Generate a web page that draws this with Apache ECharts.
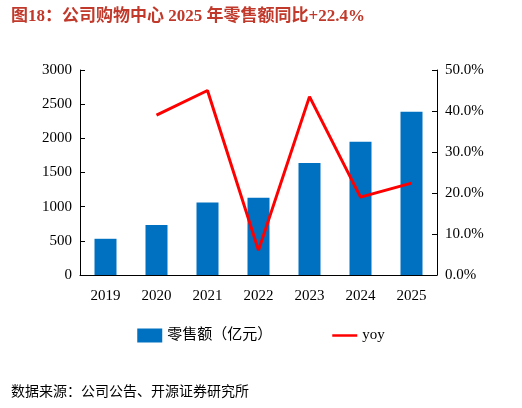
<!DOCTYPE html><html><head><meta charset="utf-8"><script src="https://cdn.jsdelivr.net/npm/echarts@6/dist/echarts.min.js"></script></head><body style="margin:0"><div id="c" style="width:522px;height:408px"></div><script>
const categories=['2019','2020','2021','2022','2023','2024','2025'];
const sales=[530,730,1060,1130,1640,1950,2390];
const yoy=[null,39.0,45.0,6.0,43.5,19.0,22.4];
const c=echarts.init(document.getElementById('c'));
const f='"Liberation Serif","Noto Sans CJK SC",serif';
c.setOption({
title:[{text:'图18：公司购物中心 2025 年零售额同比+22.4%',left:6,top:3,textStyle:{color:'#C0392B',fontSize:17,fontWeight:'bold',fontFamily:f}},
{text:'数据来源：公司公告、开源证券研究所',left:6,top:380,textStyle:{color:'#000',fontSize:14,fontWeight:'normal',fontFamily:f}}],
grid:{left:80,right:85,top:70,bottom:133},
legend:{bottom:60,itemGap:60,textStyle:{fontSize:15,fontFamily:f,color:'#000'},data:[{name:'零售额（亿元）',icon:'rect',itemWidth:44,itemHeight:8},{name:'yoy',icon:'path://M0,0H10V1H0Z',itemWidth:44,itemHeight:3}]},
xAxis:{type:'category',data:categories,axisTick:{show:false},axisLine:{lineStyle:{color:'#000'}},axisLabel:{fontSize:15,color:'#000',fontFamily:f,margin:14}},
yAxis:[{type:'value',min:0,max:3000,interval:500,splitLine:{show:false},axisLine:{show:true,lineStyle:{color:'#000'}},axisTick:{show:true,inside:true},axisLabel:{fontSize:15,color:'#000',fontFamily:f,formatter:v=>String(v)}},
{type:'value',min:0,max:50,interval:10,splitLine:{show:false},axisLine:{show:true,lineStyle:{color:'#000'}},axisTick:{show:true,inside:true},axisLabel:{fontSize:15,color:'#000',fontFamily:f,formatter:v=>v.toFixed(1)+'%'}}],
series:[{name:'零售额（亿元）',type:'bar',data:sales,barWidth:22,itemStyle:{color:'#0070C0'}},
{name:'yoy',type:'line',yAxisIndex:1,data:yoy,symbol:'none',lineStyle:{color:'#FF0000',width:3},itemStyle:{color:'#FF0000'}}]
});
</script></body></html>
